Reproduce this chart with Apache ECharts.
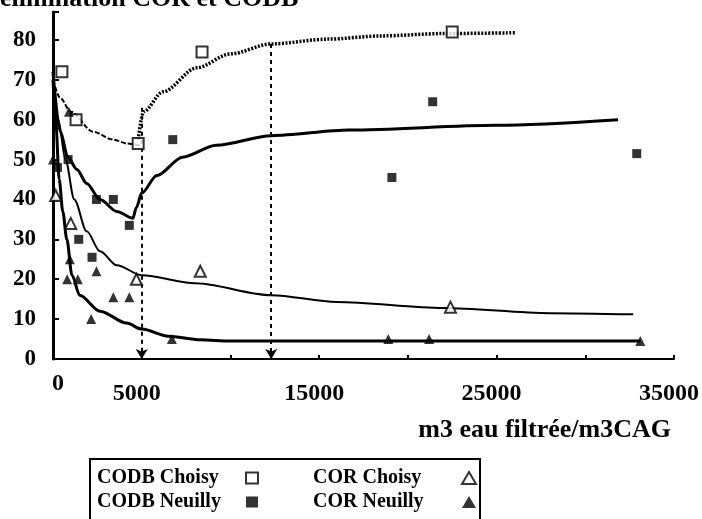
<!DOCTYPE html>
<html><head><meta charset="utf-8">
<script src="https://cdn.jsdelivr.net/npm/echarts@6/dist/echarts.min.js"></script>
<style>html,body{margin:0;padding:0;background:#fff;overflow:hidden}#c{width:702px;height:519px}</style>
</head><body><div id="c"></div>
<script>
// ---- data ----
const titleText = 'élimination COR et CODB';
const xAxisTitle = 'm3 eau filtrée/m3CAG';
const xTickLabels = [0, 5000, 15000, 25000, 35000];
const yTickLabels = [0, 10, 20, 30, 40, 50, 60, 70, 80];

const codbChoisyX = [500, 1300, 4800, 8400, 22500];
const codbChoisyY = [72, 60, 54, 77, 82];

const codbNeuillyX = [250, 850, 1450, 2200, 2450, 3400, 4300, 6750, 19100, 21400, 32900];
const codbNeuillyY = [48, 50, 30, 25.5, 40, 40, 33.5, 55, 45.5, 64.5, 51.5];

const corChoisyX = [150, 1000, 4700, 8300, 22400];
const corChoisyY = [41, 34, 20, 22, 13];

const corNeuillyX = [0, 900, 800, 950, 1400, 2150, 2450, 3400, 4300, 6700, 18900, 21200, 33100];
const corNeuillyY = [50, 62, 20, 25, 20, 10, 22, 15.5, 15.5, 5, 5, 5, 4.5];

// fitted curves
const codbChoisyFit1X = [0, 400, 1000, 2250, 3400, 4200, 4900];
const codbChoisyFit1Y = [70, 65.5, 62, 57, 55, 54, 53.5];
const codbChoisyFit2X = [4800, 5100, 6200, 8100, 10000, 12300, 15500, 18500, 22000, 26100];
const codbChoisyFit2Y = [55, 62, 67, 73, 76.5, 79, 80.2, 81, 81.6, 81.8];

const codbNeuillyFitX = [0, 400, 850, 1350, 1900, 2650, 3600, 4500, 4700, 5000, 5850, 7300, 9200, 12300, 16700, 25000, 31850];
const codbNeuillyFitY = [72, 57, 50.5, 47.5, 44, 40, 37, 35.3, 38, 41.6, 46, 50.6, 53.6, 56, 57.4, 58.6, 60];

const corChoisyFitX = [0, 300, 700, 1200, 1900, 2650, 3600, 5000, 8000, 12300, 16000, 22000, 28000, 32700];
const corChoisyFitY = [70, 60, 50, 40, 32, 27, 23.5, 21, 19, 16, 14.3, 12.8, 11.5, 11.2];

const corNeuillyFitX = [0, 150, 350, 550, 780, 1070, 1500, 2650, 4150, 5000, 6500, 8300, 10000, 20000, 33100];
const corNeuillyFitY = [70, 60, 45, 37, 30, 21, 16, 12, 9, 7.5, 5.7, 4.8, 4.5, 4.5, 4.5];

const thresholdX = [5000, 12300];
const thresholdTop = [63, 79];

// ---- chart ----
const pts = (xs, ys) => xs.map((x, i) => [x, ys[i]]);
const FONT = '"Liberation Serif", "Times New Roman", serif';

const fitLine = (data, width, type, extra) => Object.assign({
  type: 'line', data: data, symbol: 'none', smooth: 0.3, smoothMonotone: 'x',
  silent: true, z: 1,
  lineStyle: { color: '#000', width: width, type: type }
}, extra || {});

const legendText = (size) => ({
  color: '#000', fontFamily: FONT, fontWeight: 'bold', fontSize: size, lineHeight: 22,
  rich: { a: { width: 144, align: 'left', color: '#000', fontFamily: FONT, fontWeight: 'bold', fontSize: size } }
});

const chart = echarts.init(document.getElementById('c'), null, { renderer: 'canvas' });
chart.setOption({
  animation: false,
  backgroundColor: '#fff',
  grid: { left: 53, right: 27, top: 12, bottom: 160, containLabel: false },
  xAxis: {
    type: 'value', min: 0, max: 35000, interval: 5000,
    axisLine: { show: true, onZero: false, lineStyle: { color: '#000', width: 2 } },
    axisTick: { show: true, inside: true, length: 4, lineStyle: { color: '#000', width: 2 } },
    splitLine: { show: false },
    axisLabel: {
      margin: 13, color: '#000', fontFamily: FONT, fontWeight: 'bold', fontSize: 24,
      formatter: v => xTickLabels.indexOf(v) >= 0 ? (v === 0 ? '{z|0}' : '{n|' + v + '}') : '',
      rich: {
        z: { fontFamily: FONT, fontWeight: 'bold', fontSize: 24, color: '#000', padding: [0, 0, 0, 10] },
        n: { fontFamily: FONT, fontWeight: 'bold', fontSize: 24, color: '#000', padding: [10, 10, 0, 0] }
      }
    },
    name: xAxisTitle, nameLocation: 'end', nameGap: -3,
    nameTextStyle: { color: '#000', fontFamily: FONT, fontWeight: 'bold', fontSize: 26,
      align: 'right', verticalAlign: 'top', padding: [58, 0, 0, 0] }
  },
  yAxis: {
    type: 'value', min: 0, max: 87, interval: 10,
    axisLine: { show: true, lineStyle: { color: '#000', width: 3 } },
    axisTick: { show: true, inside: true, length: 6, lineStyle: { color: '#000', width: 2 } },
    splitLine: { show: false },
    axisLabel: {
      margin: 17, color: '#000', fontFamily: FONT, fontWeight: 'bold', fontSize: 23,
      formatter: v => yTickLabels.indexOf(v) >= 0 ? String(v) : ''
    }
  },
  legend: [
    { data: ['CODB Choisy', 'CODB Neuilly'], left: 97, top: 467, orient: 'vertical', align: 'right',
      itemGap: 2, itemWidth: 12, itemHeight: 11, padding: 0,
      formatter: n => '{a|' + n + '}', textStyle: legendText(20) },
    { data: ['COR Choisy', 'COR Neuilly'], left: 313, top: 467, orient: 'vertical', align: 'right',
      itemGap: 2, itemWidth: 14, itemHeight: 12, padding: 0,
      formatter: n => '{a|' + n + '}', textStyle: legendText(20) }
  ],
  graphic: [
    { type: 'text', x: 0, y: 12, z: 10,
      style: { text: titleText, fill: '#000', font: 'bold 26px "Liberation Serif", serif', verticalAlign: 'bottom' } },
    { type: 'rect', shape: { x: 90, y: 459, width: 390, height: 80 },
      style: { fill: 'none', stroke: '#000', lineWidth: 2 }, silent: true }
  ],
  series: [
    fitLine(pts(codbChoisyFit1X, codbChoisyFit1Y), 2, [5, 2]),
    fitLine(pts(codbChoisyFit2X, codbChoisyFit2Y), 3.5, [2, 1.5], {
      markLine: {
        silent: true, symbol: ['none', 'arrow'], symbolSize: [9, 10],
        label: { show: false },
        lineStyle: { color: '#000', width: 2, type: [4, 4] },
        data: thresholdX.map((x, i) => [{ coord: [x, thresholdTop[i]] }, { coord: [x, 0] }])
      }
    }),
    fitLine(pts(codbNeuillyFitX, codbNeuillyFitY), 3, 'solid'),
    fitLine(pts(corChoisyFitX, corChoisyFitY), 2, 'solid'),
    fitLine(pts(corNeuillyFitX, corNeuillyFitY), 3, 'solid'),
    { name: 'CODB Choisy', type: 'scatter', data: pts(codbChoisyX, codbChoisyY), symbol: 'rect', symbolSize: 11, z: 5,
      itemStyle: { color: '#fff', borderColor: '#000', borderWidth: 2 } },
    { name: 'CODB Neuilly', type: 'scatter', data: pts(codbNeuillyX, codbNeuillyY), symbol: 'rect', symbolSize: 9, z: 5,
      itemStyle: { color: '#000' } },
    { name: 'COR Choisy', type: 'scatter', data: pts(corChoisyX, corChoisyY), symbol: 'triangle', symbolSize: 11, z: 5,
      itemStyle: { color: '#fff', borderColor: '#000', borderWidth: 2 } },
    { name: 'COR Neuilly', type: 'scatter', data: pts(corNeuillyX, corNeuillyY), symbol: 'triangle', symbolSize: 10, z: 5,
      itemStyle: { color: '#000' } }
  ]
});
</script></body></html>
